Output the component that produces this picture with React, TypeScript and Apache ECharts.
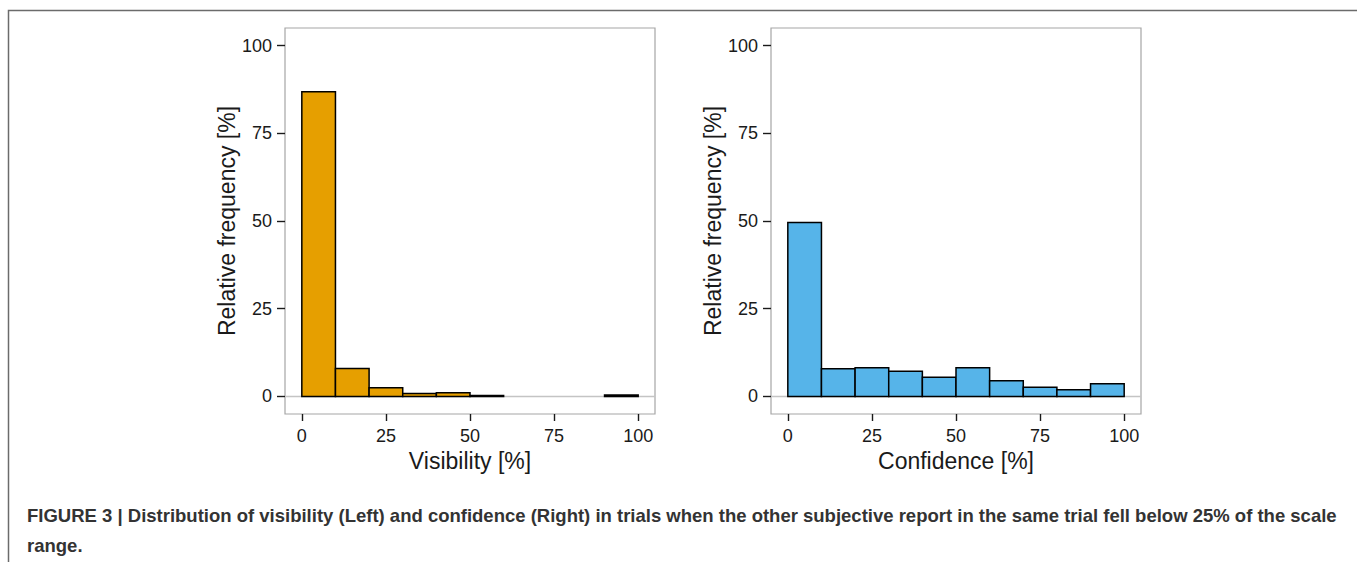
import React, { useEffect, useRef } from "react";
import * as echarts from "echarts";

const binStarts = [0, 10, 20, 30, 40, 50, 60, 70, 80, 90];
const binWidth = 10;
const visibilityFreq = [86.8, 8.0, 2.5, 0.85, 1.05, 0.3, 0, 0, 0, 0.4];
const confidenceFreq = [49.6, 7.9, 8.2, 7.2, 5.5, 8.2, 4.5, 2.65, 1.9, 3.6];
const tickValues = [0, 25, 50, 75, 100];
const yTitle = "Relative frequency [%]";
const xTitles = ["Visibility [%]", "Confidence [%]"];
const caption =
  "FIGURE 3 | Distribution of visibility (Left) and confidence (Right) in trials when the other subjective report in the same trial fell below 25% of the scale range.";

const FONT = '"Liberation Sans", Arial, sans-serif';

export default function App() {
  const ref = useRef<HTMLDivElement>(null);
  useEffect(() => {
    if (!ref.current) return;
    const chart = echarts.init(ref.current, null, { renderer: "svg" });
    const grids = [
      { left: 285, top: 28, width: 370, height: 386 },
      { left: 771, top: 28, width: 370, height: 386 },
    ];
    const mkX = (i: number) => ({
      type: "value",
      gridIndex: i,
      min: -5,
      max: 105,
      name: xTitles[i],
      nameLocation: "middle",
      nameGap: 33,
      nameTextStyle: { fontSize: 23, color: "#1a1a1a", fontFamily: FONT },
      axisLine: { show: false, onZero: false },
      splitLine: { show: false },
      axisTick: {
        show: true,
        length: 7,
        customValues: tickValues,
        lineStyle: { color: "#1a1a1a", width: 1.4 },
      },
      axisLabel: {
        customValues: tickValues,
        margin: 13,
        fontSize: 18,
        color: "#1a1a1a",
        fontFamily: FONT,
      },
    });
    const mkY = (i: number) => ({
      type: "value",
      gridIndex: i,
      min: -5,
      max: 105,
      name: yTitle,
      nameLocation: "middle",
      nameGap: 46,
      nameRotate: 90,
      nameTextStyle: { fontSize: 23, color: "#1a1a1a", fontFamily: FONT },
      axisLine: { show: false, onZero: false },
      splitLine: { show: false },
      axisTick: {
        show: true,
        length: 8,
        customValues: tickValues,
        lineStyle: { color: "#1a1a1a", width: 1.4 },
      },
      axisLabel: {
        customValues: tickValues,
        margin: 13,
        fontSize: 18,
        color: "#1a1a1a",
        fontFamily: FONT,
      },
    });
    const histData = (vals: number[]) =>
      binStarts.map((s, k) => [s, s + binWidth, vals[k]]);
    const mkHist = (i: number, vals: number[], color: string) => ({
      type: "custom",
      xAxisIndex: i,
      yAxisIndex: i,
      z: 3,
      data: histData(vals),
      encode: { x: [0, 1], y: 2 },
      renderItem: (params: any, api: any) => {
        const x0 = api.value(0);
        const x1 = api.value(1);
        const v = api.value(2);
        if (!v) return null;
        const p0 = api.coord([x0, v]);
        const p1 = api.coord([x1, 0]);
        return {
          type: "rect",
          shape: { x: p0[0], y: p0[1], width: p1[0] - p0[0], height: p1[1] - p0[1] },
          style: { fill: color, stroke: "#000", lineWidth: 1.5 },
        };
      },
    });
    const zeroLine = (i: number) => ({
      type: "line",
      xAxisIndex: i,
      yAxisIndex: i,
      z: 1,
      symbol: "none",
      silent: true,
      data: [
        [-5, 0],
        [105, 0],
      ],
      lineStyle: { color: "#c4c4c4", width: 1.5 },
    });
    chart.setOption({
      animation: false,
      backgroundColor: "#fff",
      grid: grids.map((g) => ({
        ...g,
        show: true,
        borderColor: "#a6a6a6",
        borderWidth: 1.2,
        backgroundColor: "transparent",
      })),
      xAxis: [mkX(0), mkX(1)],
      yAxis: [mkY(0), mkY(1)],
      series: [
        zeroLine(0),
        zeroLine(1),
        mkHist(0, visibilityFreq, "#E69F00"),
        mkHist(1, confidenceFreq, "#56B4E9"),
      ],
      graphic: [
        {
          type: "rect",
          left: 6,
          top: 8,
          shape: { x: 0, y: 0, width: 1350, height: 600 },
          style: { fill: "none", stroke: "#6b6b6b", lineWidth: 1.5 },
          silent: true,
        },
        {
          type: "text",
          left: 27,
          top: 500,
          style: {
            text: caption,
            width: 1322,
            overflow: "break",
            font: `bold 18.5px ${FONT}`,
            fill: "#333",
            lineHeight: 30,
          },
        },
      ],
    });
    return () => chart.dispose();
  }, []);
  return (
    <div
      ref={ref}
      style={{ position: "fixed", left: 0, top: 0, width: 1357, height: 562 }}
    />
  );
}
